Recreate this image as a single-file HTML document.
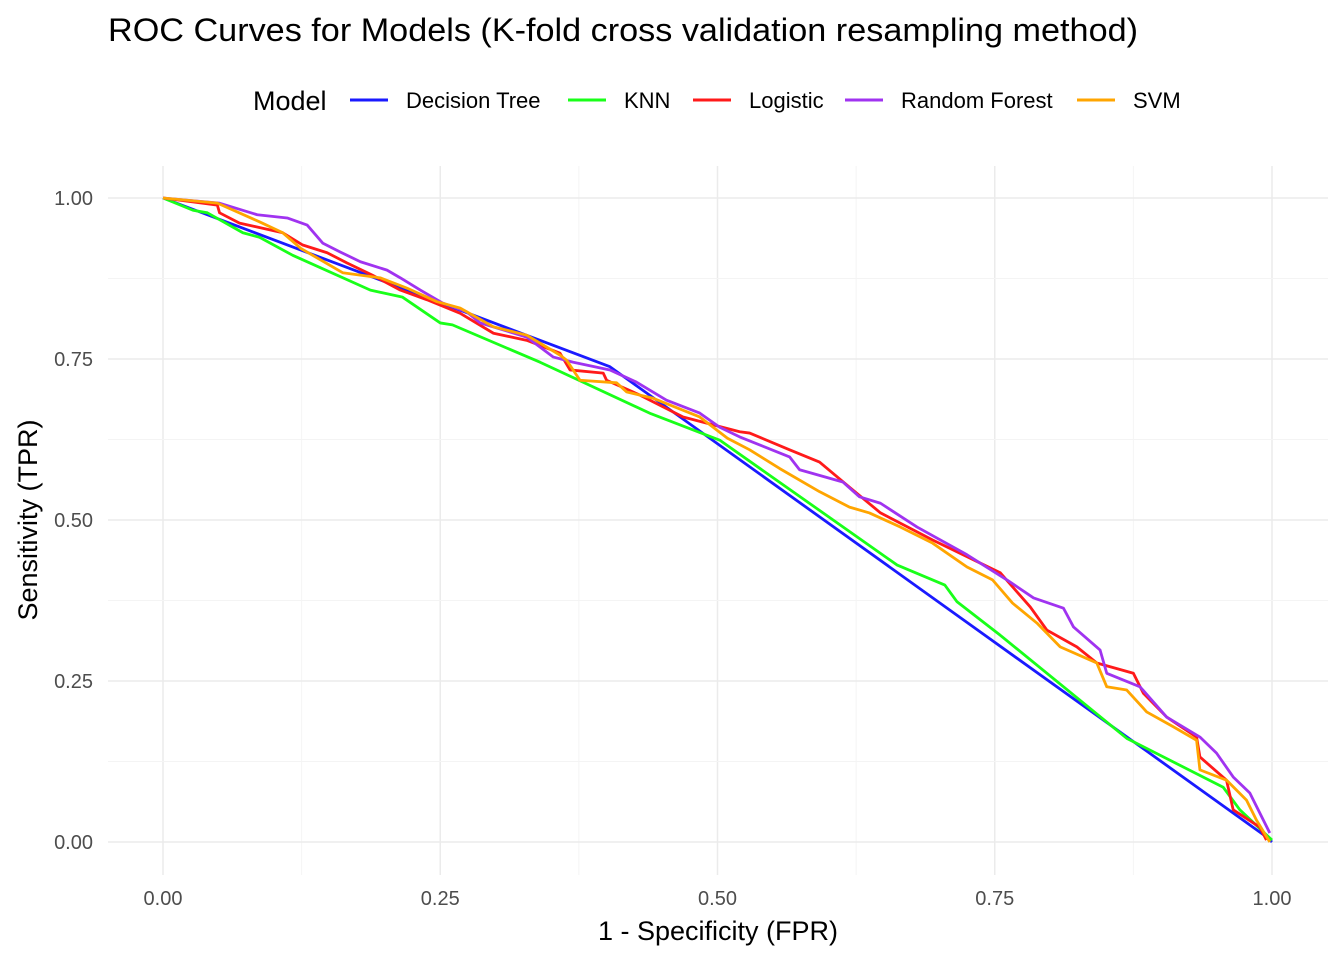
<!DOCTYPE html>
<html><head><meta charset="utf-8"><style>
body{margin:0;background:#fff;font-family:"Liberation Sans",Arial,sans-serif}
svg text{font-family:"Liberation Sans",Arial,sans-serif}
</style></head><body>
<svg id="chart" width="1344" height="960">
<text x="108" y="41" font-size="32" textLength="1030" lengthAdjust="spacingAndGlyphs" fill="#000">ROC Curves for Models (K-fold cross validation resampling method)</text>
<g id="legend">
<text x="253" y="110" font-size="27" fill="#000">Model</text>
</g>
<g id="grid"></g><g id="ticks"></g><g id="lines"></g>
<text x="718" y="940" font-size="27" text-anchor="middle" fill="#000">1 - Specificity (FPR)</text>
<text transform="translate(37,520) rotate(-90)" font-size="27" text-anchor="middle" fill="#000">Sensitivity (TPR)</text>
</svg>
<script>
const models=["Decision Tree","KNN","Logistic","Random Forest","SVM"];
const colors=["#1a1aff","#19ff19","#ff1a1a","#a033f0","#ffa500"];
const xTicks=[0,0.25,0.5,0.75,1];
const xTickLabels=["0.00","0.25","0.50","0.75","1.00"];
const yTicks=[0,0.25,0.5,0.75,1];
const yTickLabels=["0.00","0.25","0.50","0.75","1.00"];
const dtX=[0,0.403,0.995,1];
const dtY=[1,0.738,0.008,0];
const knnX=[0,0.027,0.04,0.072,0.087,0.117,0.187,0.216,0.25,0.261,0.34,0.44,0.502,0.662,0.705,0.716,0.755,0.869,0.956,0.971,1];
const knnY=[1,0.981,0.977,0.946,0.939,0.911,0.857,0.846,0.806,0.803,0.745,0.665,0.624,0.43,0.399,0.373,0.321,0.161,0.085,0.05,0.003];
const logX=[0,0.049,0.051,0.069,0.108,0.126,0.148,0.166,0.189,0.214,0.238,0.268,0.298,0.328,0.358,0.367,0.397,0.4,0.43,0.469,0.52,0.529,0.565,0.592,0.619,0.647,0.694,0.755,0.782,0.797,0.824,0.842,0.875,0.884,0.905,0.932,0.935,0.959,0.965,0.989,0.995];
const logY=[1,0.989,0.977,0.961,0.946,0.927,0.915,0.899,0.88,0.857,0.842,0.821,0.79,0.779,0.759,0.733,0.728,0.717,0.694,0.66,0.637,0.635,0.609,0.59,0.551,0.511,0.469,0.418,0.365,0.329,0.303,0.278,0.262,0.231,0.194,0.163,0.132,0.096,0.05,0.023,0.003];
const rfX=[0,0.051,0.085,0.112,0.13,0.144,0.16,0.178,0.202,0.214,0.232,0.252,0.274,0.286,0.328,0.352,0.37,0.403,0.427,0.454,0.484,0.502,0.52,0.565,0.574,0.613,0.628,0.647,0.68,0.725,0.761,0.785,0.812,0.821,0.845,0.851,0.881,0.905,0.935,0.95,0.965,0.98,0.998];
const rfY=[1,0.992,0.974,0.969,0.958,0.93,0.916,0.901,0.888,0.876,0.857,0.837,0.823,0.806,0.784,0.753,0.745,0.733,0.714,0.686,0.666,0.644,0.629,0.598,0.578,0.559,0.536,0.526,0.489,0.446,0.407,0.379,0.363,0.334,0.298,0.262,0.241,0.194,0.163,0.138,0.101,0.076,0.014];
const svmX=[0,0.049,0.087,0.108,0.124,0.139,0.162,0.196,0.22,0.247,0.268,0.298,0.328,0.358,0.364,0.376,0.409,0.418,0.442,0.484,0.509,0.529,0.556,0.592,0.619,0.637,0.665,0.694,0.725,0.748,0.766,0.788,0.809,0.842,0.851,0.869,0.887,0.911,0.932,0.935,0.959,0.977,0.986,0.998];
const svmY=[1,0.992,0.963,0.946,0.922,0.907,0.884,0.876,0.86,0.839,0.829,0.8,0.787,0.756,0.748,0.717,0.713,0.699,0.689,0.66,0.627,0.609,0.58,0.544,0.52,0.511,0.489,0.464,0.427,0.407,0.371,0.34,0.303,0.278,0.241,0.236,0.202,0.179,0.158,0.112,0.096,0.065,0.034,0];
const seriesX=[dtX,knnX,logX,rfX,svmX], seriesY=[dtY,knnY,logY,rfY,svmY];
const NS="http://www.w3.org/2000/svg";
const sx=v=>163+v*1109, sy=v=>842-v*644;
function mk(t,a,p){const e=document.createElementNS(NS,t);for(const k in a)e.setAttribute(k,a[k]);p.appendChild(e);return e;}
const grid=document.getElementById('grid'),ticks=document.getElementById('ticks'),lines=document.getElementById('lines'),legend=document.getElementById('legend');
for(let i=0;i<xTicks.length;i++){
 const x=sx(xTicks[i]);
 const g=mk('line',{x1:x,x2:x,y1:166,y2:875,stroke:'#ebebeb','stroke-width':1.5},grid);
 
 
 if(i<xTicks.length-1){const m=sx(xTicks[i]+0.125);const g2=mk('line',{x1:m,x2:m,y1:166,y2:875,stroke:'#f4f4f4','stroke-width':1},grid);
 
 }
 const t=mk('text',{x:x,y:905,'font-size':20,fill:'#4d4d4d','text-anchor':'middle'},ticks);t.textContent=xTickLabels[i];
 
 
}
for(let i=0;i<yTicks.length;i++){
 const y=sy(yTicks[i]);
 const g=mk('line',{x1:108,x2:1328,y1:y,y2:y,stroke:'#ebebeb','stroke-width':1.5},grid);
 
 
 if(i<yTicks.length-1){const m=sy(yTicks[i]+0.125);const g2=mk('line',{x1:108,x2:1328,y1:m,y2:m,stroke:'#f4f4f4','stroke-width':1},grid);
 
 }
 const t=mk('text',{x:93,y:y+7,'font-size':20,fill:'#4d4d4d','text-anchor':'end'},ticks);t.textContent=yTickLabels[i];
 
 
}
for(let s=0;s<models.length;s++){
 const pts=seriesX[s].map((v,i)=>sx(v)+','+sy(seriesY[s][i])).join(' ');
 const pl=mk('polyline',{points:pts,fill:'none',stroke:colors[s],'stroke-width':2.8,'stroke-linejoin':'round'},lines);
 
 
}
const legX=[350,568,693,845,1077];
for(let s=0;s<models.length;s++){
 const l=mk('line',{x1:legX[s],x2:legX[s]+38,y1:100,y2:100,stroke:colors[s],'stroke-width':3},legend);
 
 
 const t=mk('text',{x:legX[s]+56,y:108,'font-size':22,fill:'#000'},legend);t.textContent=models[s];
 
 
}
</script>
</body></html>
